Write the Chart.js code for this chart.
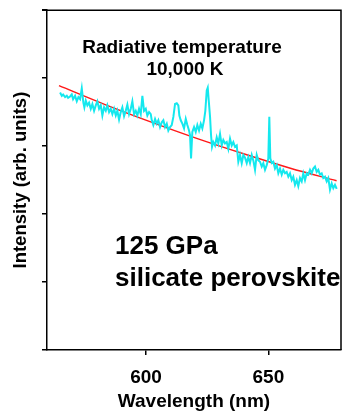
<!DOCTYPE html>
<html lang="en">
<head>
    <meta charset="UTF-8">
    <title>Radiative temperature</title>
    <script src="https://cdn.jsdelivr.net/npm/chart.js"></script>
    <style>
        html, body { margin: 0; padding: 0; background: #fff; }
        #wrap { width: 343px; height: 411px; position: relative; }
    </style>
</head>
<body>
    <div id="wrap"><canvas id="spectrum-chart"></canvas></div>

    <script>
        // measured spectrum (cyan)
        const wavelength = [
            564.85, 565.55, 566.08, 566.90, 567.59, 568.12, 568.94, 569.63, 570.17, 570.98, 571.68, 572.33, 573.03, 573.72,
            574.37, 574.78, 575.36, 576.01, 576.70, 577.40, 578.05, 578.75, 579.44, 580.10, 580.79, 581.49, 582.14, 582.83,
            583.53, 584.18, 584.88, 585.57, 586.23, 586.92, 587.62, 588.27, 588.96, 589.66, 590.31, 591.01, 591.70, 592.36,
            593.05, 593.75, 594.40, 595.10, 595.79, 596.44, 597.14, 597.83, 598.49, 599.18, 599.88, 600.53, 601.23, 601.92,
            602.33, 602.98, 603.68, 604.37, 605.03, 605.72, 606.42, 607.07, 607.77, 608.46, 609.11, 609.81, 610.50, 611.16,
            611.85, 612.55, 613.20, 613.61, 614.18, 614.84, 615.53, 616.23, 616.88, 617.57, 617.98, 618.39, 618.92, 619.62,
            620.31, 620.97, 621.66, 622.36, 623.01, 623.70, 624.23, 624.81, 625.22, 625.63, 626.16, 626.57, 626.97, 627.50,
            628.20, 628.89, 629.55, 630.24, 630.94, 631.59, 632.29, 632.98, 633.64, 634.33, 635.02, 635.68, 636.37, 637.07,
            637.72, 638.42, 639.11, 639.77, 640.46, 641.16, 641.81, 642.50, 643.20, 643.85, 644.55, 645.24, 645.90, 646.59,
            647.29, 647.94, 648.63, 649.33, 649.98, 650.39, 650.80, 651.37, 652.03, 652.72, 653.42, 654.07, 654.76, 655.46,
            656.11, 656.81, 657.50, 658.16, 658.85, 659.55, 660.20, 660.89, 661.59, 662.24, 662.94, 663.63, 664.29, 664.98,
            665.68, 666.33, 667.03, 667.72, 668.37, 669.07, 669.76, 670.42, 671.11, 671.81, 672.46, 673.16, 673.85, 674.51,
            675.20, 675.90, 676.55, 677.24, 677.94
        ];
        const intensity = [
            3.79, 3.74, 3.76, 3.72, 3.74, 3.71, 3.73, 3.76, 3.69, 3.74, 3.66, 3.72, 3.69, 3.85,
            3.64, 3.57, 3.67, 3.60, 3.64, 3.55, 3.62, 3.52, 3.60, 3.66, 3.55, 3.60, 3.45, 3.57,
            3.52, 3.60, 3.50, 3.55, 3.47, 3.55, 3.45, 3.52, 3.39, 3.50, 3.57, 3.44, 3.52, 3.61,
            3.47, 3.55, 3.66, 3.47, 3.52, 3.45, 3.55, 3.47, 3.74, 3.52, 3.55, 3.45, 3.50, 3.47,
            3.38, 3.31, 3.40, 3.33, 3.38, 3.28, 3.35, 3.38, 3.28, 3.33, 3.23, 3.28, 3.31, 3.43,
            3.62, 3.63, 3.60, 3.45, 3.38, 3.33, 3.26, 3.40, 3.31, 3.23, 3.16, 2.82, 3.21, 3.28,
            3.21, 3.31, 3.23, 3.33, 3.26, 3.38, 3.52, 3.82, 3.86, 3.67, 3.43, 3.16, 2.99, 3.06,
            3.01, 3.13, 3.04, 3.18, 3.01, 3.09, 3.04, 3.06, 2.96, 3.11, 3.01, 3.06, 2.99, 3.01,
            2.77, 2.87, 2.75, 2.87, 2.83, 2.75, 2.84, 2.75, 2.87, 2.79, 2.65, 2.87, 2.79, 2.77,
            2.70, 2.75, 2.65, 2.72, 2.82, 3.43, 2.82, 2.75, 2.77, 2.67, 2.72, 2.60, 2.67, 2.58,
            2.65, 2.60, 2.62, 2.55, 2.60, 2.50, 2.55, 2.43, 2.50, 2.41, 2.53, 2.48, 2.60, 2.50,
            2.60, 2.58, 2.65, 2.60, 2.67, 2.70, 2.62, 2.65, 2.58, 2.60, 2.53, 2.55, 2.48, 2.53,
            2.36, 2.45, 2.38, 2.43, 2.37
        ];

        // fitted curve (red)
        const fitWavelength = [564.4, 583, 601.6, 621, 640.5, 659, 677.9];
        const fitIntensity = [3.89, 3.615, 3.36, 3.11, 2.88, 2.675, 2.49];

        const xTicks = [600, 650];
        const fontFamily = "'Liberation Sans', Arial, sans-serif";

        const labelPlugin = {
            id: 'labels',
            afterDraw(chart) {
                const ctx = chart.ctx;
                const area = chart.chartArea;
                ctx.save();
                // frame
                ctx.strokeStyle = '#000';
                ctx.lineWidth = 1.5;
                ctx.beginPath();
                ctx.moveTo(area.left, area.top);
                ctx.lineTo(area.right, area.top);
                ctx.lineTo(area.right, area.bottom);
                ctx.stroke();
                ctx.beginPath();
                ctx.moveTo(area.left - 5, area.top);
                ctx.lineTo(area.left, area.top);
                ctx.stroke();

                ctx.fillStyle = '#000';
                ctx.textBaseline = 'middle';
                ctx.textAlign = 'center';
                ctx.font = 'bold 19px ' + fontFamily;
                ctx.fillText('Radiative temperature', 182, 48);
                ctx.fillText('10,000 K', 185, 70);
                ctx.textAlign = 'left';
                ctx.font = 'bold 26px ' + fontFamily;
                ctx.fillText('125 GPa', 115, 247);
                ctx.fillText('silicate perovskite', 115, 279);
                ctx.restore();
            }
        };

        const ctx = document.getElementById('spectrum-chart').getContext('2d');
        new Chart(ctx, {
            type: 'line',
            data: {
                datasets: [{
                    label: 'Spectrum',
                    data: wavelength.map((w, i) => ({ x: w, y: intensity[i] })),
                    borderColor: '#14e8ee',
                    borderWidth: 2,
                    pointRadius: 0,
                    tension: 0
                }, {
                    label: 'Fit',
                    data: fitWavelength.map((w, i) => ({ x: w, y: fitIntensity[i] })),
                    borderColor: '#ff1a1a',
                    borderWidth: 1.5,
                    pointRadius: 0,
                    cubicInterpolationMode: 'monotone'
                }]
            },
            options: {
                responsive: true,
                maintainAspectRatio: false,
                animation: false,
                layout: { padding: { top: 7, right: 2, left: 0, bottom: 0 } },
                plugins: {
                    legend: { display: false },
                    tooltip: { enabled: false }
                },
                scales: {
                    x: {
                        type: 'linear',
                        min: 559.5,
                        max: 679.7,
                        afterFit(scale) { scale.height = 61; },
                        afterBuildTicks(scale) { scale.ticks = xTicks.map(v => ({ value: v })); },
                        border: { color: '#000', width: 1.5 },
                        grid: { drawOnChartArea: false, drawTicks: true, tickLength: 5, color: '#000', lineWidth: 1.5 },
                        ticks: {
                            color: '#000',
                            padding: 11,
                            maxRotation: 0,
                            font: { family: fontFamily, size: 19, weight: 'bold' }
                        },
                        title: {
                            display: true,
                            text: 'Wavelength (nm)',
                            color: '#000',
                            padding: 0,
                            font: { family: fontFamily, size: 19, weight: 'bold', lineHeight: 1 }
                        }
                    },
                    y: {
                        min: 0,
                        max: 5,
                        afterFit(scale) { scale.width = 47; },
                        border: { color: '#000', width: 1.5 },
                        grid: { drawOnChartArea: false, drawTicks: true, tickLength: 5, color: '#000', lineWidth: 1.5 },
                        ticks: {
                            stepSize: 1,
                            callback: () => ''
                        },
                        title: {
                            display: true,
                            text: 'Intensity (arb. units)',
                            color: '#000',
                            padding: { top: 12, bottom: 0 },
                            font: { family: fontFamily, size: 18.5, weight: 'bold', lineHeight: 1 }
                        }
                    }
                }
            },
            plugins: [labelPlugin]
        });
    </script>
</body>
</html>
